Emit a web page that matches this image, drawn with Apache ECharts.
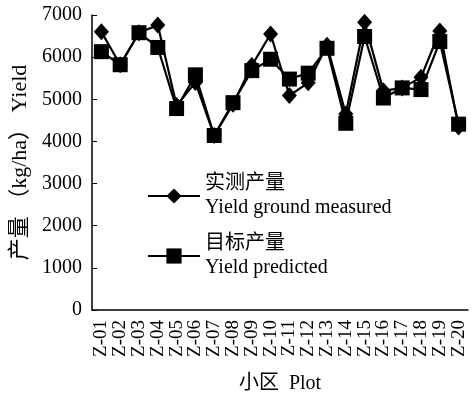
<!DOCTYPE html>
<html>
<head>
<meta charset="utf-8">
<script src="https://cdn.jsdelivr.net/npm/echarts@6/dist/echarts.min.js"></script>
<style>html,body{margin:0;padding:0;background:#fff}#c{width:473px;height:399px}</style>
</head>
<body>
<div id="c"></div>
<script>
var categories = ['Z-01','Z-02','Z-03','Z-04','Z-05','Z-06','Z-07','Z-08','Z-09','Z-10','Z-11','Z-12','Z-13','Z-14','Z-15','Z-16','Z-17','Z-18','Z-19','Z-20'];
var measured = [6600,5820,6580,6760,4850,5400,4140,4880,5800,6550,5090,5390,6280,4650,6830,5200,5270,5520,6620,4340];
var predicted = [6130,5820,6580,6230,4780,5580,4140,4920,5680,5950,5480,5620,6210,4430,6490,5030,5270,5230,6370,4410];
var yTicks = [0,1000,2000,3000,4000,5000,6000,7000];

var serif = '"Liberation Serif","Noto Sans CJK SC",serif';
var chart = echarts.init(document.getElementById('c'));
chart.setOption({
  animation: false,
  backgroundColor: '#fff',
  grid: {left: 92, right: 5, top: 15, bottom: 86, containLabel: false},
  legend: {
    orient: 'vertical',
    left: 142,
    top: 167,
    itemWidth: 52,
    itemHeight: 19,
    itemGap: 12,
    textStyle: {fontFamily: serif, fontSize: 20, color: '#000', lineHeight: 24},
    data: [
      {name: '实测产量\nYield ground measured'},
      {name: '目标产量\nYield predicted'}
    ]
  },
  xAxis: {
    type: 'category',
    data: categories,
    boundaryGap: true,
    name: '小区  Plot',
    nameLocation: 'middle',
    nameGap: 64,
    nameTextStyle: {fontFamily: serif, fontSize: 20, color: '#000'},
    axisLine: {lineStyle: {color: '#000', width: 1.5}},
    axisTick: {inside: true, length: 5, lineStyle: {color: '#000'}},
    axisLabel: {rotate: 90, interval: 0, margin: 10, fontFamily: serif, fontSize: 19, color: '#000'}
  },
  yAxis: {
    type: 'value',
    min: yTicks[0],
    max: yTicks[yTicks.length - 1],
    interval: 1000,
    name: '产量 （kg/ha） Yield',
    nameLocation: 'middle',
    nameGap: 60,
    nameTextStyle: {fontFamily: serif, fontSize: 22, color: '#000', padding: [0, 0, 0, 0]},
    splitLine: {show: false},
    axisLine: {show: true, lineStyle: {color: '#000', width: 1.5}},
    axisTick: {show: true, inside: true, length: 5, lineStyle: {color: '#000'}},
    axisLabel: {margin: 10, fontFamily: serif, fontSize: 20, color: '#000', formatter: function (v) { return String(v); }}
  },
  series: [
    {
      name: '实测产量\nYield ground measured',
      type: 'line',
      data: measured,
      symbol: 'diamond',
      symbolSize: [15, 17],
      lineStyle: {color: '#000', width: 2.2},
      itemStyle: {color: '#000'}
    },
    {
      name: '目标产量\nYield predicted',
      type: 'line',
      data: predicted,
      symbol: 'rect',
      symbolSize: 15,
      lineStyle: {color: '#000', width: 2.2},
      itemStyle: {color: '#000'}
    }
  ]
});
</script>
</body>
</html>
